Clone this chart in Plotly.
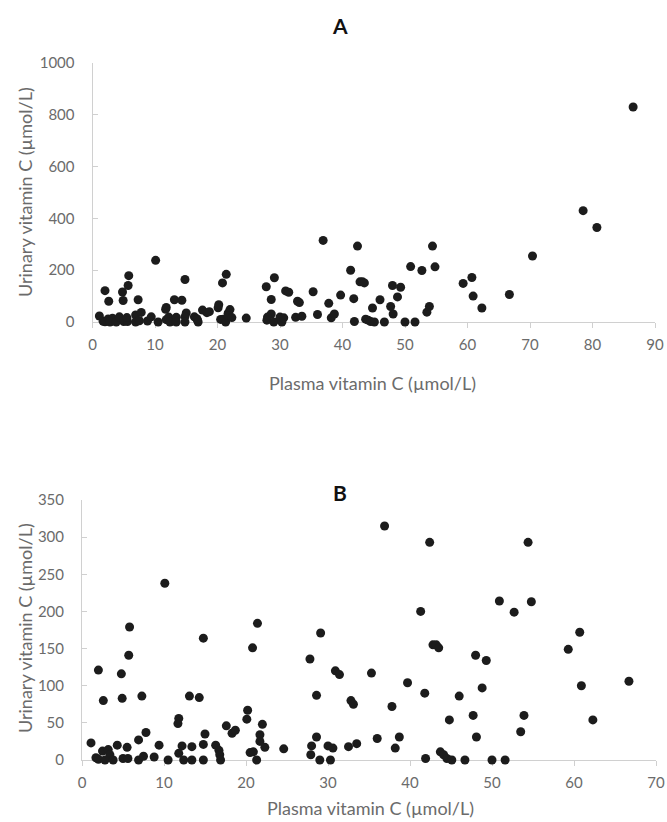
import plotly.graph_objects as go

# Plasma vitamin C (µmol/L) and urinary vitamin C (µmol/L)
plasma = [1.1, 2.0, 1.7, 2.0, 2.6, 2.5, 3.2, 3.4, 2.8, 3.8,
          4.3, 4.8, 4.9, 5.0, 5.6, 5.5, 5.8, 5.7, 7.3, 6.9,
          7.8, 6.9, 7.5, 8.8, 9.4, 10.1, 10.5, 11.8, 11.7, 11.8,
          12.2, 12.4, 13.1, 13.4, 13.4, 14.3, 14.8, 15.0, 14.8, 14.8,
          16.3, 16.7, 16.8, 16.9, 17.6, 18.3, 18.7, 20.1, 20.2, 20.8,
          21.4, 20.5, 20.9, 21.3, 22.0, 21.7, 21.7, 22.3, 24.6, 27.8,
          28.6, 29.1, 28.6, 28.0, 27.9, 29.0, 30.0, 30.3, 30.6, 30.9,
          31.4, 32.8, 33.1, 32.5, 33.5, 35.3, 36.0, 36.9, 37.8, 38.2,
          38.7, 39.7, 41.3, 41.8, 41.9, 42.4, 42.8, 43.2, 43.5, 43.7,
          44.1, 44.5, 44.8, 45.1, 46.0, 46.7, 47.7, 48.0, 48.1, 48.8,
          49.3, 50.0, 50.9, 51.6, 52.7, 53.5, 53.9, 54.4, 54.8, 59.3,
          60.7, 60.9, 62.3, 66.7, 70.4, 78.5, 80.7, 86.5]
urinary = [23, 121, 3, 1, 80, 12, 14, 7, 0, 0,
           20, 116, 83, 2, 2, 17, 179, 141, 86, 27,
           37, 0, 5, 4, 20, 238, 0, 56, 49, 9,
           19, 0, 86, 18, 0, 84, 164, 35, 21, 0,
           20, 13, 7, 0, 46, 36, 40, 55, 67, 151,
           184, 10, 11, 0, 48, 34, 25, 17, 15, 136,
           87, 171, 31, 19, 7, 0, 19, 0, 16, 120,
           115, 80, 75, 18, 22, 117, 29, 315, 72, 16,
           31, 104, 200, 90, 2, 293, 155, 155, 151, 11,
           7, 2, 54, 0, 86, 0, 60, 141, 31, 97,
           134, 0, 214, 0, 199, 38, 60, 293, 213, 149,
           172, 100, 54, 106, 255, 430, 365, 830]

panel_titles = ["A", "B"]
x_title = "Plasma vitamin C (µmol/L)"
y_title = "Urinary vitamin C (µmol/L)"
a_xticks = [0, 10, 20, 30, 40, 50, 60, 70, 80, 90]
a_yticks = [0, 200, 400, 600, 800, 1000]
b_xticks = [0, 10, 20, 30, 40, 50, 60, 70]
b_yticks = [0, 50, 100, 150, 200, 250, 300, 350]

W, H = 667, 822
FONT = "Lato"
GRAY = "#6b6b6b"
AXC = "#d0d0d0"

def px_x(p):
    return p / W

def px_y(p):
    return 1 - p / H

b_x = [x for x, y in zip(plasma, urinary) if x <= 70 and y <= 350]
b_y = [y for x, y in zip(plasma, urinary) if x <= 70 and y <= 350]

fig = go.Figure()
marker = dict(size=9, color="#1c1c1c", line=dict(width=0))
fig.add_trace(go.Scatter(x=plasma, y=urinary, mode="markers", marker=marker,
                         xaxis="x", yaxis="y", cliponaxis=False, showlegend=False))
fig.add_trace(go.Scatter(x=b_x, y=b_y, mode="markers", marker=marker,
                         xaxis="x2", yaxis="y2", cliponaxis=False, showlegend=False))

def xax(domain, ticks, rng, anchor):
    return dict(domain=domain, range=rng, tickvals=ticks, anchor=anchor,
                showgrid=False, zeroline=False, showline=True, linecolor=AXC,
                linewidth=1, ticks="outside", ticklen=5, tickcolor=AXC,
                ticklabelstandoff=4,
                tickfont=dict(family=FONT, size=15, color=GRAY),
                layer="below traces", fixedrange=True, automargin=False)

def yax(domain, ticks, rng, anchor):
    return dict(domain=domain, range=rng, tickvals=ticks, anchor=anchor,
                showgrid=False, zeroline=False, showline=True, linecolor=AXC,
                linewidth=1, ticks="inside", ticklen=5, tickcolor=AXC,
                ticklabelstandoff=14,
                tickfont=dict(family=FONT, size=15, color=GRAY),
                layer="below traces", fixedrange=True, automargin=False)

fig.update_layout(
    width=W, height=H,
    margin=dict(l=0, r=0, t=0, b=0),
    paper_bgcolor="white", plot_bgcolor="white",
    xaxis=xax([px_x(92.5), px_x(655)], a_xticks, [0, 90], "y"),
    yaxis=yax([px_y(322), px_y(63)], a_yticks, [0, 1000], "x"),
    xaxis2=xax([px_x(82), px_x(656)], b_xticks, [0, 70], "y2"),
    yaxis2=yax([px_y(760), px_y(500)], b_yticks, [0, 350], "x2"),
)

anns = [
    (panel_titles[0], 340, 25, 0, dict(family=FONT, size=21, color="#111111"), True),
    (panel_titles[1], 340, 492, 0, dict(family=FONT, size=21, color="#111111"), True),
    (x_title, 372, 383, 0, dict(family=FONT, size=18, color=GRAY), False),
    (x_title, 370, 808, 0, dict(family=FONT, size=18, color=GRAY), False),
    (y_title, 25, 192, -90, dict(family=FONT, size=18, color=GRAY), False),
    (y_title, 25, 628, -90, dict(family=FONT, size=18, color=GRAY), False),
]
for text, x, y, ang, font, bold in anns:
    fig.add_annotation(text=f"<b>{text}</b>" if bold else text,
                       x=px_x(x), y=px_y(y), xref="paper", yref="paper",
                       xanchor="center", yanchor="middle", textangle=ang,
                       showarrow=False, font=font)

# remove the browser's default 8px body margin so the figure fills the window
fig.write_html("out.html",
               config={"displayModeBar": False},
               post_script="document.body.style.margin='0';"
                           "document.body.style.overflow='hidden';")
